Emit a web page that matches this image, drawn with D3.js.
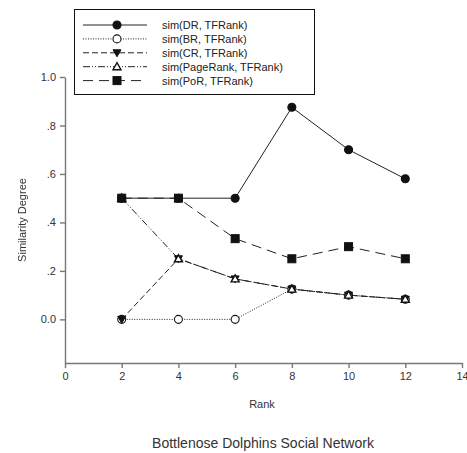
<!DOCTYPE html>
<meta charset="utf-8">
<script src="https://d3js.org/d3.v7.min.js"></script>
<style>
body { margin: 0; background: #fff; }
svg { font-family: 'Liberation Sans', Arial, sans-serif; }
.axis path, .axis line { stroke: #777; stroke-width: 1.4; }
.axis text { font-size: 11px; fill: #333; }
text.label { font-size: 11px; fill: #333; }
text.legend { font-size: 11px; fill: #222; }
</style>
<svg width="467" height="453"></svg>
<script>
const ranks = [2, 4, 6, 8, 10, 12];
const drValues = [0.5, 0.5, 0.5, 0.875, 0.7, 0.58];
const brValues = [0, 0, 0, 0.125, 0.1, 0.083];
const crValues = [0, 0.25, 0.167, 0.125, 0.1, 0.083];
const pageRankValues = [0.5, 0.25, 0.167, 0.125, 0.1, 0.083];
const porValues = [0.5, 0.5, 0.333, 0.25, 0.3, 0.25];
const seriesNames = ['sim(DR, TFRank)', 'sim(BR, TFRank)', 'sim(CR, TFRank)',
  'sim(PageRank, TFRank)', 'sim(PoR, TFRank)'];
const xTicks = [0, 2, 4, 6, 8, 10, 12, 14];
const yTicks = [0, 0.2, 0.4, 0.6, 0.8, 1.0];
const yTickLabels = ['0.0', '.2', '.4', '.6', '.8', '1.0'];

const series = [
  { name: seriesNames[0], values: drValues, dash: null, marker: 'circle', fill: '#111' },
  { name: seriesNames[1], values: brValues, dash: '1,1.5', marker: 'circle', fill: '#fff' },
  { name: seriesNames[2], values: crValues, dash: '6,3', marker: 'tridown', fill: '#111' },
  { name: seriesNames[3], values: pageRankValues, dash: '7,2,1,2,1,2', marker: 'triup', fill: '#fff' },
  { name: seriesNames[4], values: porValues, dash: '10,6', marker: 'square', fill: '#111' }
];

const svg = d3.select('svg');
const x = d3.scaleLinear().domain([0, 14]).range([65, 462]);
const y = d3.scaleLinear().domain([-0.18, 1.0]).range([363, 77]);

svg.append('g')
  .attr('class', 'axis')
  .attr('transform', `translate(0, ${y(-0.18)})`)
  .call(d3.axisBottom(x).tickValues(xTicks).tickSize(5).tickPadding(4).tickSizeOuter(0));

svg.append('g')
  .attr('class', 'axis')
  .attr('transform', `translate(${x(0)}, 0)`)
  .call(d3.axisLeft(y).tickValues(yTicks).tickSize(5).tickPadding(4).tickSizeOuter(0)
    .tickFormat((d, i) => yTickLabels[i]));

function drawMarker(g, type, fill, cx, cy) {
  if (type === 'circle') {
    g.append('circle').attr('cx', cx).attr('cy', cy).attr('r', 4)
      .attr('fill', fill).attr('stroke', '#111').attr('stroke-width', 1.1);
  } else if (type === 'square') {
    g.append('rect').attr('x', cx - 4).attr('y', cy - 4).attr('width', 8).attr('height', 8)
      .attr('fill', fill).attr('stroke', '#111').attr('stroke-width', 1);
  } else if (type === 'tridown') {
    g.append('path').attr('d', `M${cx - 4},${cy - 3}L${cx + 4},${cy - 3}L${cx},${cy + 4}Z`)
      .attr('fill', fill).attr('stroke', '#111').attr('stroke-width', 1);
  } else {
    g.append('path').attr('d', `M${cx - 4},${cy + 3}L${cx + 4},${cy + 3}L${cx},${cy - 4}Z`)
      .attr('fill', fill).attr('stroke', '#111').attr('stroke-width', 1.4);
  }
}

const line = d3.line().x((d, i) => x(ranks[i])).y(d => y(d));
// PoR, BR, CR, PageRank, DR — later ones sit on top
const drawOrder = [4, 1, 2, 3, 0];

drawOrder.forEach(k => {
  const s = series[k];
  svg.append('path')
    .datum(s.values)
    .attr('d', line)
    .attr('fill', 'none')
    .attr('stroke', '#222')
    .attr('stroke-width', 1)
    .attr('stroke-dasharray', s.dash);
});
drawOrder.forEach(k => {
  const s = series[k];
  const g = svg.append('g');
  s.values.forEach((v, i) => drawMarker(g, s.marker, s.fill, x(ranks[i]), y(v)));
});

// legend
const legend = svg.append('g');
legend.append('rect')
  .attr('x', 74.5).attr('y', 9.5).attr('width', 240).attr('height', 85)
  .attr('fill', '#fff').attr('stroke', '#111').attr('stroke-width', 1);
series.forEach((s, i) => {
  const ly = 25 + i * 13.9;
  legend.append('line')
    .attr('x1', 83).attr('x2', 147).attr('y1', ly).attr('y2', ly)
    .attr('stroke', '#222').attr('stroke-width', 1)
    .attr('stroke-dasharray', s.dash);
  drawMarker(legend, s.marker, s.fill, 117, ly);
  legend.append('text')
    .attr('class', 'legend')
    .attr('x', 162).attr('y', ly + 4)
    .text(s.name);
});

svg.append('g')
  .style('filter', 'grayscale(1)')
  .append('text')
  .attr('class', 'label')
  .attr('transform', `translate(26, 220) rotate(-90)`)
  .attr('text-anchor', 'middle')
  .text('Similarity Degree');

svg.append('text')
  .attr('class', 'label')
  .attr('x', 262).attr('y', 408)
  .attr('text-anchor', 'middle')
  .text('Rank');

svg.append('text')
  .attr('class', 'label')
  .attr('x', 263).attr('y', 448)
  .attr('text-anchor', 'middle')
  .style('font-size', '14px')
  .text('Bottlenose Dolphins Social Network');
</script>
